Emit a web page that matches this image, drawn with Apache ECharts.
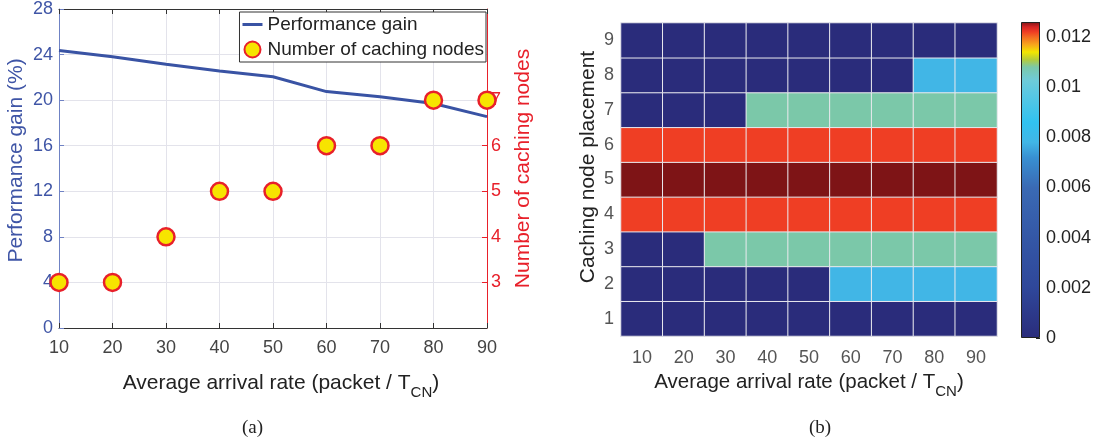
<!DOCTYPE html>
<html>
<head>
<meta charset="utf-8">
<script src="https://cdn.jsdelivr.net/npm/echarts@6/dist/echarts.min.js"></script>
<style>
html,body{margin:0;padding:0;background:#fff;}
#chart{width:1099px;height:445px;}
</style>
</head>
<body>
<div id="chart"></div>
<script>
// ---------- data ----------
const rates = [10, 20, 30, 40, 50, 60, 70, 80, 90];
const rateLabels = ['10', '20', '30', '40', '50', '60', '70', '80', '90'];
const perfGain = [24.35, 23.8, 23.15, 22.55, 22.05, 20.75, 20.3, 19.7, 18.55];
const cachingNodes = [3, 3, 4, 5, 5, 6, 6, 7, 7];
const placements = ['1', '2', '3', '4', '5', '6', '7', '8', '9'];
// rows: placement 1..9, columns: rates 10..90
const placement1 = [0, 0, 0, 0, 0, 0, 0, 0, 0];
const placement2 = [0, 0, 0, 0, 0, 0.0078, 0.0078, 0.0078, 0.0078];
const placement3 = [0, 0, 0.0108, 0.0108, 0.0108, 0.0108, 0.0108, 0.0108, 0.0108];
const placement4 = [0.0122, 0.0122, 0.0122, 0.0122, 0.0122, 0.0122, 0.0122, 0.0122, 0.0122];
const placement5 = [0.0126, 0.0126, 0.0126, 0.0126, 0.0126, 0.0126, 0.0126, 0.0126, 0.0126];
const placement6 = [0.0122, 0.0122, 0.0122, 0.0122, 0.0122, 0.0122, 0.0122, 0.0122, 0.0122];
const placement7 = [0, 0, 0, 0.0108, 0.0108, 0.0108, 0.0108, 0.0108, 0.0108];
const placement8 = [0, 0, 0, 0, 0, 0, 0, 0.0078, 0.0078];
const placement9 = [0, 0, 0, 0, 0, 0, 0, 0, 0];
const colorMax = 0.0126;

// ---------- style ----------
const colormap = [
  [0, '#2a2c7b'], [0.002, '#2f479a'], [0.004, '#3457a6'], [0.006, '#3a6ab4'],
  [0.0072, '#3890d2'], [0.0078, '#41b6e6'], [0.0086, '#31c2f0'], [0.0098, '#5cc8e2'],
  [0.0103, '#6fcbd8'], [0.0108, '#7bc8a9'], [0.0111, '#b5cc3a'], [0.0114, '#f3e600'],
  [0.0117, '#f8a51c'], [0.0120, '#f26b22'], [0.0122, '#ef3e24'], [0.0124, '#d52424'],
  [0.0126, '#7e1416']
];
const FONT = '"Liberation Sans", Arial, Helvetica, sans-serif';

function hexToRgb(h) { return [parseInt(h.slice(1,3),16), parseInt(h.slice(3,5),16), parseInt(h.slice(5,7),16)]; }
function sampleColor(v) {
  for (let i = 1; i < colormap.length; i++) {
    if (v <= colormap[i][0] + 1e-12) {
      const [v0, c0] = colormap[i-1], [v1, c1] = colormap[i];
      const t = (v - v0) / (v1 - v0);
      const a = hexToRgb(c0), b = hexToRgb(c1);
      return 'rgb(' + a.map((x, k) => Math.round(x + (b[k]-x)*t)).join(',') + ')';
    }
  }
  return colormap[colormap.length-1][1];
}
const N = 253;
const vmColors = [];
for (let i = 0; i < N; i++) vmColors.push(sampleColor(colorMax * i / (N-1)));

const heatRows = [placement1, placement2, placement3, placement4, placement5, placement6, placement7, placement8, placement9];
const heatData = [];
heatRows.forEach((row, yi) => row.forEach((v, xi) => heatData.push([xi, yi, v])));

const chart = echarts.init(document.getElementById('chart'), null, {renderer: 'canvas'});

const subName = '{n|Average arrival rate (packet / T}{s|CN}{n|)}';
function nameRich(size) {
  return {
    n: {fontSize: size, fontFamily: FONT, color: '#222', lineHeight: 34, verticalAlign: 'middle'},
    s: {fontSize: 15, fontFamily: FONT, color: '#222', lineHeight: 34, verticalAlign: 'bottom'}
  };
}

const option = {
  animation: false,
  textStyle: {fontFamily: FONT},
  grid: [
    {left: 59, right: 612, top: 9, bottom: 117},
    {left: 621, right: 102, top: 23, bottom: 109},
    {left: 1021, width: 19, top: 22, height: 316}
  ],
  legend: {
    data: [
      {name: 'Performance gain', icon: 'path://M0,0H20V3H0Z'},
      {name: 'Number of caching nodes'}
    ],
    orient: 'vertical', right: 613, top: 12,
    backgroundColor: '#fff', borderColor: '#333', borderWidth: 1,
    padding: [3, 2, 3, 3], itemGap: 6, itemWidth: 20, itemHeight: 16,
    symbolKeepAspect: true,
    textStyle: {fontSize: 19, color: '#222', fontFamily: FONT}
  },
  visualMap: {
    show: false, type: 'continuous', seriesIndex: 2,
    min: 0, max: colorMax, inRange: {color: vmColors}
  },
  xAxis: [
    {
      type: 'value', gridIndex: 0, min: 10, max: 90, interval: 10,
      name: subName, nameLocation: 'middle', nameGap: 38,
      nameTextStyle: {rich: nameRich(21), padding: [0, 0, 0, 16]},
      axisLine: {lineStyle: {color: '#333', width: 1}},
      axisTick: {inside: true, length: 5, lineStyle: {color: '#333'}},
      axisLabel: {fontSize: 18, color: '#444', margin: 11, fontFamily: FONT},
      splitLine: {show: true, lineStyle: {color: '#e3e3eb', width: 1}}
    },
    {
      type: 'value', gridIndex: 0, position: 'top', min: 10, max: 90, interval: 10,
      axisLine: {lineStyle: {color: '#333', width: 1}},
      axisTick: {inside: true, length: 5, lineStyle: {color: '#333'}},
      axisLabel: {show: false}, splitLine: {show: false}
    },
    {
      type: 'category', gridIndex: 1, data: rateLabels,
      name: subName, nameLocation: 'middle', nameGap: 29,
      nameTextStyle: {rich: nameRich(20.5)},
      axisLine: {lineStyle: {color: '#c8c8d0'}},
      axisTick: {show: false},
      axisLabel: {fontSize: 18, color: '#555', margin: 13, fontFamily: FONT},
      splitLine: {show: false}
    },
    {
      type: 'category', gridIndex: 2, data: ['c'], show: false
    }
  ],
  yAxis: [
    {
      type: 'value', gridIndex: 0, min: 0, max: 28, interval: 4,
      name: 'Performance gain (%)', nameLocation: 'middle', nameGap: 32,
      nameTextStyle: {fontSize: 21, color: '#3f55a6', fontFamily: FONT, padding: [0, 0, 0, 16]},
      axisLine: {show: true, lineStyle: {color: '#6f82c4', width: 1}},
      axisTick: {show: true, inside: true, length: 5, lineStyle: {color: '#6f82c4'}},
      axisLabel: {fontSize: 18, color: '#3f55a6', margin: 6, fontFamily: FONT},
      splitLine: {show: true, lineStyle: {color: '#e3e3eb', width: 1}}
    },
    {
      type: 'value', gridIndex: 0, position: 'right', min: 2, max: 9, interval: 1,
      name: 'Number of caching nodes', nameLocation: 'middle', nameGap: 26,
      nameRotate: 90,
      nameTextStyle: {fontSize: 21, color: '#e8202a', fontFamily: FONT, verticalAlign: 'top'},
      axisLine: {show: true, lineStyle: {color: '#e8202a', width: 1}},
      axisTick: {show: true, inside: true, length: 5, customValues: [3, 4, 5, 6, 7], lineStyle: {color: '#e8202a'}},
      axisLabel: {fontSize: 18, color: '#e8202a', margin: 4, customValues: [3, 4, 5, 6, 7], fontFamily: FONT},
      splitLine: {show: false}
    },
    {
      type: 'category', gridIndex: 1, data: placements,
      name: 'Caching node placement', nameLocation: 'middle', nameGap: 22,
      nameTextStyle: {fontSize: 21, color: '#222', fontFamily: FONT, padding: [0, 0, 0, 25]},
      axisLine: {lineStyle: {color: '#c8c8d0'}},
      axisTick: {show: false},
      axisLabel: {fontSize: 18, color: '#555', margin: 7, fontFamily: FONT},
      splitLine: {show: false}
    },
    {
      type: 'value', gridIndex: 2, position: 'right', min: 0, max: colorMax, interval: 0.002,
      axisLine: {show: false},
      axisTick: {show: true, inside: true, length: 4, lineStyle: {color: '#222'}},
      axisLabel: {fontSize: 18, color: '#222', margin: 6, fontFamily: FONT,
        formatter: v => (v > colorMax - 1e-9 ? '' : String(+v.toFixed(4)))},
      splitLine: {show: false}
    }
  ],
  series: [
    {
      name: 'Performance gain', type: 'line', xAxisIndex: 0, yAxisIndex: 0,
      data: rates.map((r, i) => [r, perfGain[i]]),
      symbol: 'none', lineStyle: {color: '#3953a4', width: 3}, itemStyle: {color: '#3953a4'}, z: 3
    },
    {
      name: 'Number of caching nodes', type: 'scatter', xAxisIndex: 0, yAxisIndex: 1,
      data: rates.map((r, i) => [r, cachingNodes[i]]),
      symbol: 'circle', symbolSize: 17,
      itemStyle: {color: '#f7e400', borderColor: '#e8202a', borderWidth: 2.5, opacity: 1}, z: 5
    },
    {
      type: 'heatmap', xAxisIndex: 2, yAxisIndex: 2, data: heatData,
      itemStyle: {borderColor: '#e9e9ee', borderWidth: 1},
      emphasis: {disabled: true}
    },
    {
      type: 'bar', xAxisIndex: 3, yAxisIndex: 3, data: [colorMax], barWidth: '100%',
      itemStyle: {
        borderColor: '#222', borderWidth: 1,
        color: new echarts.graphic.LinearGradient(0, 1, 0, 0,
          colormap.map(([v, c]) => ({offset: v / colorMax, color: c})))
      },
      silent: true
    }
  ],
  graphic: [
    {type: 'text', left: 242, top: 419, style: {text: '(a)', font: '19px "Liberation Serif", "Times New Roman", serif', fill: '#222'}},
    {type: 'text', left: 809, top: 419, style: {text: '(b)', font: '19px "Liberation Serif", "Times New Roman", serif', fill: '#222'}}
  ]
};
chart.setOption(option);
</script>
</body>
</html>
